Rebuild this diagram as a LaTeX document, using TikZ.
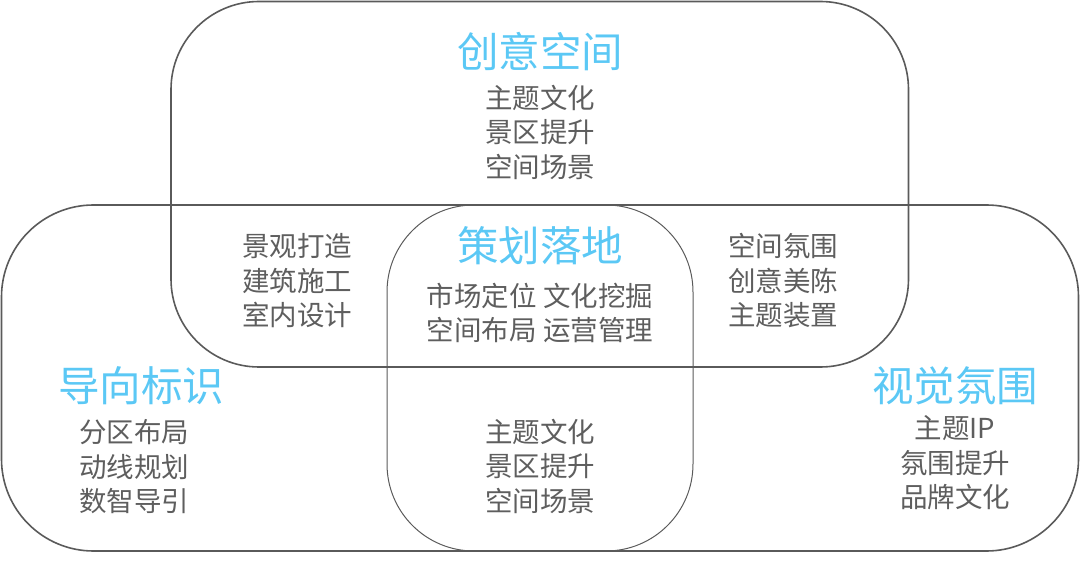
\documentclass[tikz,border=0pt]{standalone}
\usepackage{fontspec}
\setmainfont{Noto Sans CJK SC}
\definecolor{ttl}{HTML}{5BC8F5}
\definecolor{txt}{HTML}{5E5E5E}
\definecolor{ln}{HTML}{5A5A5A}
\begin{document}
\begin{tikzpicture}[x=1pt,y=-1pt,
  title/.style={text=ttl,font=\fontsize{41.5}{44}\selectfont,inner sep=0pt},
  body/.style={text=txt,font=\fontsize{27.5}{34.5}\selectfont,inner sep=0pt,align=center},
  outer/.style={draw=ln,line width=1.6pt},
  inner/.style={draw=ln,line width=1pt}]
\useasboundingbox (0,0) rectangle (1080,572);
\draw[outer,rounded corners=88pt] (171,1.5) rectangle (908.5,367);
\draw[outer,rounded corners=92pt] (1.5,205) rectangle (1078.5,551);
\draw[inner,rounded corners=87pt] (387,205) rectangle (693,551);

\node[title] (t1) at (540,52) {创意空间};
\node[body] (b1) at (540,132) {主题文化\\景区提升\\空间场景};
\node[body] (l1) at (297,281) {景观打造\\建筑施工\\室内设计};
\node[title] (t2) at (540,246) {策划落地};
\node[body] (b2) at (540,313) {市场定位 文化挖掘\\空间布局 运营管理};
\node[body] (r1) at (783,281) {空间氛围\\创意美陈\\主题装置};
\node[title] (t3) at (141,386) {导向标识};
\node[body] (b3) at (134,467) {分区布局\\动线规划\\数智导引};
\node[body] (b4) at (540,466) {主题文化\\景区提升\\空间场景};
\node[title] (t4) at (955,386) {视觉氛围};
\node[body] (b5) at (955,463) {主题IP\\氛围提升\\品牌文化};
\end{tikzpicture}
\end{document}
